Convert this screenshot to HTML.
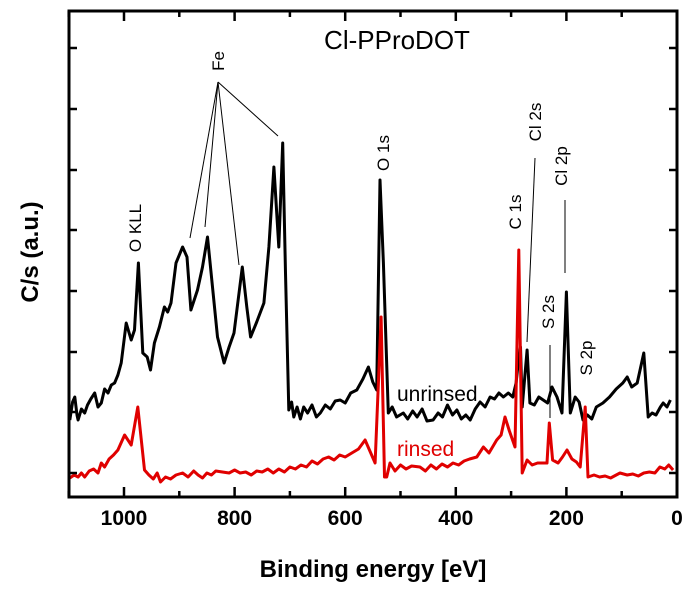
<!DOCTYPE html>
<html><head><meta charset="utf-8"><style>
html,body{margin:0;padding:0;background:#fff;}
svg{display:block;font-family:"Liberation Sans",sans-serif;}
</style></head><body>
<svg id="chart" width="700" height="589" viewBox="0 0 700 589"></svg>
<script>
const unrinsedE = [1098,1093,1089,1085,1083,1077,1071,1066,1060,1053,1047,1041,1035,1029,1023,1017,1011,1005,996,987,981,974,966,958,952,945,936,927,921,915,906,894,886,879,867,858,849,840,831,819,810,801,786,778,771,760,747,738,729,720,713,708,702,697,693,687,681,675,668,660,652,645,636,627,618,609,600,590,579,568,558,550,543,537,531,522,515,507,495,487,478,470,461,452,441,432,424,415,406,398,390,382,374,365,356,347,338,330,322,314,305,297,291,286,283,280,271,266,258,250,242,234,226,217,208,200,193,184,177,170,162,154,146,134,122,110,98,90,82,72,60,52,45,38,30,25,18,12,7];
const unrinsedI = [77,95,100,82,77,88,84,92,98,104,90,94,108,104,112,114,122,134,174,157,167,234,144,140,127,154,170,190,185,194,234,250,240,187,207,230,260,210,160,134,150,164,230,190,160,175,194,250,330,250,354,224,87,95,80,90,78,90,84,92,80,84,92,88,96,97,94,104,107,118,130,115,107,317,234,84,90,80,84,78,86,80,88,76,77,84,80,92,82,87,78,82,77,88,95,90,100,98,104,100,104,100,114,140,150,90,147,94,92,100,97,94,110,100,84,205,84,100,95,77,82,78,90,94,100,108,114,120,110,114,144,80,84,82,90,94,90,97];
const rinsedE = [1098,1090,1083,1077,1071,1063,1055,1047,1041,1035,1027,1019,1011,999,987,975,963,955,947,940,934,925,916,906,894,884,874,866,858,850,842,834,822,810,800,790,780,770,760,750,740,730,720,710,700,690,680,670,660,650,640,630,620,610,600,588,576,564,546,535,529,525,519,510,500,490,480,465,455,445,435,425,415,405,395,385,375,362,350,340,326,318,311,303,293,286,280,271,262,252,242,235,231,225,215,207,199,190,182,175,166,161,150,140,130,120,110,103,90,80,70,60,50,40,31,22,15,7];
const rinsedI = [19,22,20,24,20,26,28,24,34,30,38,42,47,62,52,90,27,22,18,24,15,20,18,22,24,20,26,22,19,24,22,26,25,24,27,24,25,22,26,25,28,24,28,25,30,28,32,30,36,33,38,40,37,42,40,44,48,57,34,180,20,20,34,26,32,28,31,30,26,32,28,33,30,34,32,36,38,40,50,44,57,62,80,66,50,247,24,37,32,34,34,34,74,37,34,40,47,38,35,30,90,20,22,20,21,19,22,24,22,23,21,24,25,24,30,28,32,27];
const xTicks = [1000,800,600,400,200,0];
const xMinor = [1100,900,700,500,300,100];
const yTicks = [48,109,170,230,291,352,412,473];

const svg = document.getElementById('chart');
const NS = 'http://www.w3.org/2000/svg';
const L=69, R=677, T=11, B=497;
function xs(e){ return 677 - 0.553*e; }
function ys(v){ return B - v; }
function mk(tag, attrs, parent){ const el=document.createElementNS(NS,tag); for(const k in attrs) el.setAttribute(k,attrs[k]); (parent||svg).appendChild(el); return el; }

function path(E,I){ return E.map((e,i)=>(i?'L':'M')+xs(e).toFixed(1)+','+ys(I[i]).toFixed(1)).join(' '); }
const blk = mk('path',{d:path(unrinsedE,unrinsedI),fill:'none',stroke:'#000','stroke-width':3,'stroke-linejoin':'round'});


const red = mk('path',{d:path(rinsedE,rinsedI),fill:'none',stroke:'#e00000','stroke-width':3,'stroke-linejoin':'round'});



const fr = mk('rect',{x:L,y:T,width:R-L,height:B-T,fill:'none',stroke:'#000','stroke-width':3});



xTicks.forEach(t=>{
  const x=xs(t);
  const a=mk('line',{x1:x,x2:x,y1:B,y2:B-10,stroke:'#000','stroke-width':2.5});
  
  
  mk('line',{x1:x,x2:x,y1:T,y2:T+10,stroke:'#000','stroke-width':2.5});
  const lb=mk('text',{x:x,y:525,'text-anchor':'middle','font-size':21,'font-weight':'bold'});
  lb.textContent=t;
  
  
});
xMinor.forEach(t=>{
  const x=xs(t);
  const a=mk('line',{x1:x,x2:x,y1:B,y2:B-6,stroke:'#000','stroke-width':2.5});
  
  
  mk('line',{x1:x,x2:x,y1:T,y2:T+6,stroke:'#000','stroke-width':2.5});
});
yTicks.forEach(y=>{
  const a=mk('line',{x1:L,x2:L+8,y1:y,y2:y,stroke:'#000','stroke-width':2.5});
  
  
  mk('line',{x1:R-8,x2:R,y1:y,y2:y,stroke:'#000','stroke-width':2.5});
});
</script>
<svg style="position:absolute;left:0;top:0" width="700" height="589">
<g font-family="Liberation Sans, sans-serif">
<text x="397" y="49" font-size="26" text-anchor="middle">Cl-PProDOT</text>
<text x="373" y="577" font-size="24" font-weight="bold" text-anchor="middle">Binding energy [eV]</text>
<text transform="translate(38,252) rotate(-90)" font-size="24" font-weight="bold" text-anchor="middle">C/s (a.u.)</text>
<g font-size="17" text-anchor="middle">
<text transform="translate(141,228) rotate(-90)">O KLL</text>
<text transform="translate(224,61) rotate(-90)">Fe</text>
<text transform="translate(389,153) rotate(-90)">O 1s</text>
<text transform="translate(521,212) rotate(-90)">C 1s</text>
<text transform="translate(541,122) rotate(-90)">Cl 2s</text>
<text transform="translate(567,166) rotate(-90)">Cl 2p</text>
<text transform="translate(554,312) rotate(-90)">S 2s</text>
<text transform="translate(592,358) rotate(-90)">S 2p</text>
</g>
<g stroke="#000" stroke-width="1">
<line x1="218" y1="82" x2="190" y2="238"/>
<line x1="218" y1="82" x2="205" y2="227"/>
<line x1="218" y1="82" x2="239" y2="265"/>
<line x1="218" y1="82" x2="278" y2="136"/>
<line x1="535" y1="158" x2="527" y2="342"/>
<line x1="565" y1="200" x2="565" y2="273"/>
<line x1="550" y1="345" x2="550" y2="418"/>
</g>
<text x="397" y="401" font-size="21">unrinsed</text>
<text x="397" y="456" font-size="21" fill="#e00000">rinsed</text>
</g>
</svg>
</body></html>
